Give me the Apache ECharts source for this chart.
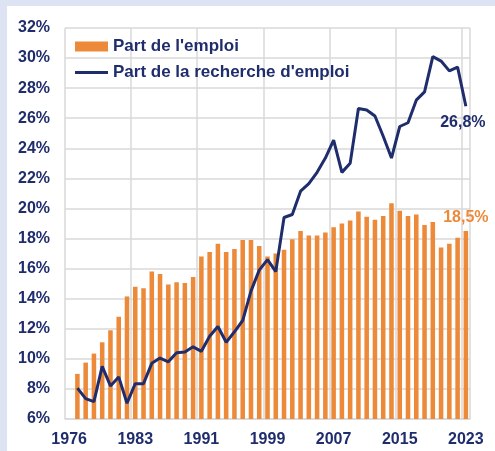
<!DOCTYPE html>
<html>
<head>
<meta charset="utf-8">
<script src="https://cdn.jsdelivr.net/npm/echarts@6/dist/echarts.min.js"></script>
<style>
html,body{margin:0;padding:0;background:#fff;}
#c{width:495px;height:451px;}
</style>
</head>
<body>
<div id="c"></div>
<script>
// Categories: first slot is an empty leading slot (no data), then 1976..2023
var categories = ['1975','1976','1977','1978','1979','1980','1981','1982','1983','1984','1985','1986','1987','1988','1989','1990','1991','1992','1993','1994','1995','1996','1997','1998','1999','2000','2001','2002','2003','2004','2005','2006','2007','2008','2009','2010','2011','2012','2013','2014','2015','2016','2017','2018','2019','2020','2021','2022','2023'];
var tickLabels = ['1976','1983','1991','1999','2007','2015','2023'];
var partEmploi = [null,9.0,9.75,10.35,11.1,11.9,12.8,14.15,14.8,14.7,15.8,15.65,14.95,15.1,15.05,15.45,16.8,17.1,17.65,17.1,17.3,17.9,17.9,17.5,16.8,17.0,17.25,17.95,18.5,18.2,18.2,18.4,18.75,19.0,19.2,19.8,19.45,19.25,19.5,20.35,19.85,19.5,19.6,18.9,19.1,17.4,17.65,18.05,18.5];
var partRecherche = [null,8.05,7.35,7.15,9.5,8.2,8.8,7.05,8.35,8.35,9.7,10.05,9.8,10.4,10.45,10.8,10.5,11.5,12.15,11.1,11.8,12.55,14.5,15.9,16.6,15.8,19.4,19.6,21.15,21.65,22.4,23.35,24.55,22.4,23.0,26.65,26.55,26.15,24.8,23.35,25.45,25.7,27.2,27.75,30.1,29.8,29.15,29.4,26.8];
var seriesNames = ["Part de l'emploi", "Part de la recherche d'emploi"];

var NAVY = '#1f2d6d';
var ORANGE = '#ec8a3a';
var GRID = '#d9d9d9';
var FONT = "'Liberation Sans', Arial, sans-serif";
var last = categories.length - 1;
function fmt(v){ return v.toFixed(1).replace('.', ',') + '%'; }

var chart = echarts.init(document.getElementById('c'), null, {renderer:'canvas'});
chart.setOption({
  animation: false,
  backgroundColor: '#ffffff',
  graphic: [
    {type:'rect', left:0, top:0, z:-10, shape:{width:495, height:6}, style:{fill:'#dde3f3'}},
    {type:'rect', left:0, top:0, z:-10, shape:{width:7, height:451}, style:{fill:'#dde3f3'}}
  ],
  grid: {left:65, right:25, top:28, bottom:32, containLabel:false},
  legend: {
    orient:'vertical', left:75, top:38, padding:0,
    itemWidth:33, itemHeight:10, itemGap:9,
    textStyle:{color:NAVY, fontFamily:FONT, fontWeight:'bold', fontSize:17, lineHeight:17},
    data:[{name:seriesNames[0], icon:'rect'}, {name:seriesNames[1], icon:'path://M0,3.5H33V6.5H0Z'}]
  },
  xAxis: {
    type:'category', data:categories, boundaryGap:true,
    axisLine:{show:true, lineStyle:{color:GRID, width:1.5}},
    axisTick:{show:false},
    axisLabel:{
      interval:7, margin:13, color:NAVY, fontFamily:FONT, fontWeight:'bold', fontSize:16,
      formatter:function(v, i){ return tickLabels[Math.round(i/8)] || ''; }
    },
    splitLine:{show:true, interval:7, lineStyle:{color:GRID, width:1.5}}
  },
  yAxis: {
    type:'value', min:6, max:32, interval:2,
    axisLine:{show:false}, axisTick:{show:false},
    axisLabel:{formatter:'{value}%', margin:15, color:NAVY, fontFamily:FONT, fontWeight:'bold', fontSize:16},
    splitLine:{show:true, lineStyle:{color:GRID, width:1.5}}
  },
  series: [
    {
      name:seriesNames[0], type:'bar', data:partEmploi, barWidth:'55%',
      itemStyle:{color:ORANGE},
      label:{show:true, position:'top', distance:5, color:ORANGE, fontFamily:FONT, fontWeight:'bold', fontSize:16,
        formatter:function(p){ return p.dataIndex === last ? fmt(p.value) : ''; }},
      z:2
    },
    {
      name:seriesNames[1], type:'line', data:partRecherche, symbol:'circle', symbolSize:0.01, showSymbol:true,
      lineStyle:{color:NAVY, width:3}, itemStyle:{color:NAVY},
      label:{show:true, position:'bottom', distance:8, offset:[-3,0], color:NAVY, fontFamily:FONT, fontWeight:'bold', fontSize:16,
        formatter:function(p){ return p.dataIndex === last ? fmt(p.value) : ''; }},
      z:3
    }
  ]
});
</script>
</body>
</html>
